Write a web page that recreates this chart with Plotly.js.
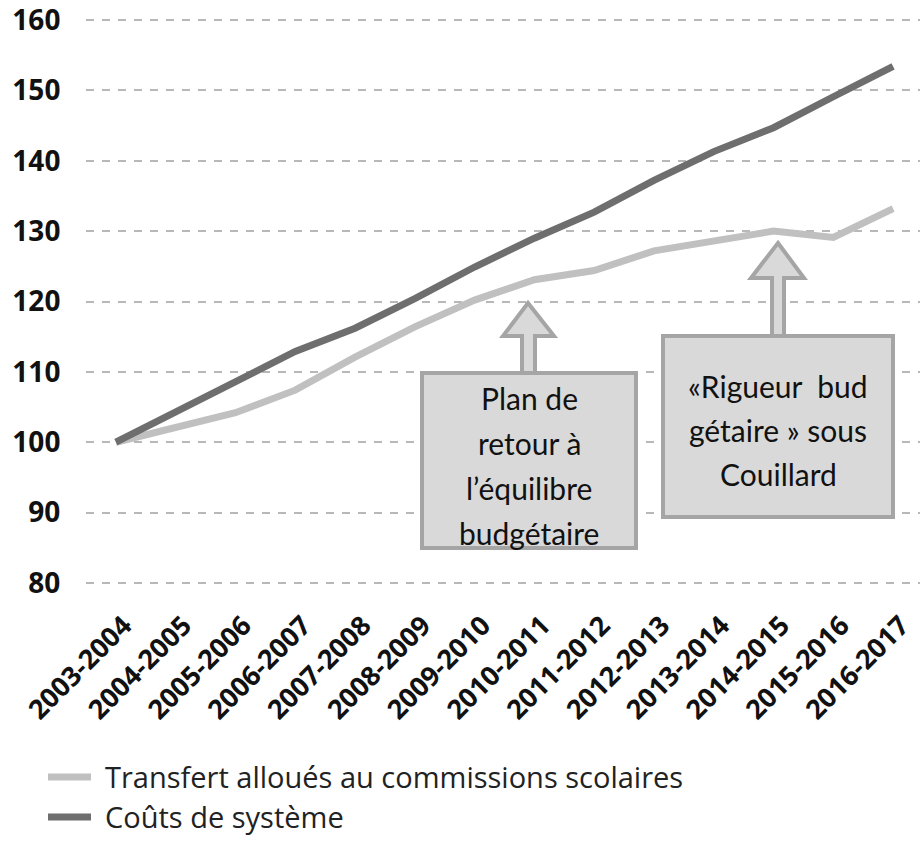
<!DOCTYPE html>
<html>
<head>
<meta charset="utf-8">
<script src="https://cdn.plot.ly/plotly-3.0.1.min.js"></script>
<style>
html,body{margin:0;padding:0;background:#fff;}
#chart{width:920px;height:844px;}
</style>
</head>
<body>
<div id="chart"></div>
<script>
// ---- data ----
const years = ["2003-2004","2004-2005","2005-2006","2006-2007","2007-2008","2008-2009","2009-2010",
               "2010-2011","2011-2012","2012-2013","2013-2014","2014-2015","2015-2016","2016-2017"];
const transferts = [100, 102.2, 104.2, 107.4, 112.1, 116.4, 120.2, 123.1, 124.4, 127.2, 128.7, 130.0, 129.1, 133.2];
const couts = [100, 104.3, 108.6, 112.9, 116.2, 120.4, 124.9, 129.0, 132.7, 137.2, 141.3, 144.7, 149.1, 153.4];
const yTicks = [80, 90, 100, 110, 120, 130, 140, 150, 160];
const seriesNames = ["Transfert alloués au commissions scolaires", "Coûts de système"];
const seriesColors = ["#c0c0c0", "#6e6e6e"];
const note1 = ["Plan de", "retour à", "l’équilibre", "budgétaire"];
const note2 = ["«Rigueur \u00a0bud", "gétaire » sous", "Couillard"];

// ---- layout geometry (pixels -> paper) ----
const L = 86, R = 920, T = 13, B = 590;
const W = 920, H = 844;
const px = x => (x - L) / (R - L);
const py = y => (B - y) / (B - T);

const boxFill = "#d9d9d9", boxLine = "#a5a5a5";

function arrowPath(tipX, tipY, headY, headL, headR, shaftL, shaftR, baseY) {
  const pts = [[tipX, tipY],[headR, headY],[shaftR, headY],[shaftR, baseY],[shaftL, baseY],[shaftL, headY],[headL, headY]];
  return "M" + pts.map(p => px(p[0]).toFixed(5) + "," + py(p[1]).toFixed(5)).join("L") + "Z";
}

const shapes = [
  {type:"path", xref:"paper", yref:"paper", path: arrowPath(528,303,336,503,554,522,535,375),
   fillcolor: boxFill, line:{color: boxLine, width:4}},
  {type:"rect", xref:"paper", yref:"paper", x0:px(422), x1:px(636), y0:py(373), y1:py(548),
   fillcolor: boxFill, line:{color: boxLine, width:4}},
  {type:"path", xref:"paper", yref:"paper", path: arrowPath(778,243,278,751,804,772,784,338),
   fillcolor: boxFill, line:{color: boxLine, width:4}},
  {type:"rect", xref:"paper", yref:"paper", x0:px(663), x1:px(893), y0:py(336), y1:py(517),
   fillcolor: boxFill, line:{color: boxLine, width:4}}
];

const annFont = {family:"Lato, 'Open Sans', sans-serif", size:30, color:"#111"};
const annotations = [];
note1.forEach((t, i) => annotations.push({xref:"paper", yref:"paper", x:px(529), y:py(398 + i*45),
  text:t, showarrow:false, xanchor:"center", yanchor:"middle", font:annFont}));
note2.forEach((t, i) => annotations.push({xref:"paper", yref:"paper", x:px(778), y:py(386 + i*44),
  text:t, showarrow:false, xanchor:"center", yanchor:"middle", font:annFont}));

// ---- legend (drawn manually to match spacing) ----
const legendRows = [777, 817];
seriesNames.forEach((name, i) => {
  shapes.push({type:"line", xref:"paper", yref:"paper", x0:px(48), x1:px(91),
    y0:py(legendRows[i]), y1:py(legendRows[i]), line:{color: seriesColors[i], width:7}});
  annotations.push({xref:"paper", yref:"paper", x:px(103), y:py(legendRows[i] - 1), text:name,
    showarrow:false, xanchor:"left", yanchor:"middle",
    font:{family:"'Open Sans', sans-serif", size:29, color:"#222"}});
});

const traces = [
  {x: years, y: transferts, name: seriesNames[0], type:"scatter", mode:"lines",
   line:{color: seriesColors[0], width:7}},
  {x: years, y: couts, name: seriesNames[1], type:"scatter", mode:"lines",
   line:{color: seriesColors[1], width:7}}
];

const layout = {
  width: W, height: H,
  margin: {l: L, r: W - R, t: T, b: H - B, pad: 0},
  paper_bgcolor: "#fff", plot_bgcolor: "#fff",
  showlegend: false,
  xaxis: {type:"category", range:[-0.5, 13.45], tickangle:-45, showgrid:false, zeroline:false,
          showline:false, ticks:"outside", ticklen:8, tickcolor:"rgba(0,0,0,0)", ticklabelshift:8,
          tickfont:{family:"'Open Sans', sans-serif", size:27, color:"#111", weight:"bold"}},
  yaxis: {range:[79, 161], tickvals: yTicks, ticktext: yTicks.map(String), showgrid:true,
          gridcolor:"#b8b8b8", gridwidth:2, griddash:"8px,8px", zeroline:false, showline:false,
          ticks:"outside", ticklen:19, tickcolor:"rgba(0,0,0,0)", ticklabeloverflow:"allow",
          tickfont:{family:"'Open Sans', sans-serif", size:28, color:"#111", weight:"bold"}},
  shapes: shapes,
  annotations: annotations
};

Plotly.newPlot("chart", traces, layout, {displayModeBar:false, staticPlot:true});
</script>
</body>
</html>
